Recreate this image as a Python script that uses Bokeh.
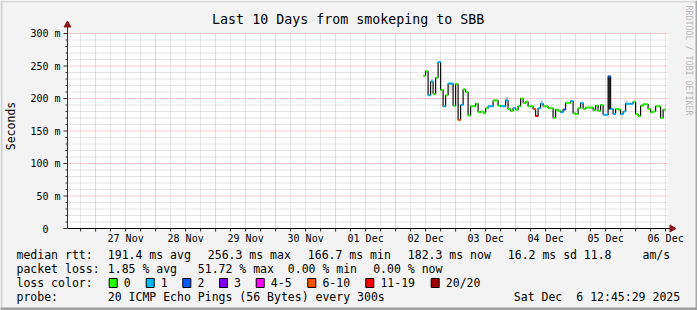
import math
import pandas as pd
from bokeh.plotting import figure
from bokeh.models import Range1d
from bokeh.core.properties import value
from bokeh.embed import file_html
from bokeh.resources import INLINE

# ---------------- data ----------------
title_text = "Last 10 Days from smokeping to SBB"
graph_end = "2025-12-06 12:45:29"
first_slot = "2025-12-02 11:00"          # hourly consolidated medians
median_ms = [235, 242, 205, 226, 207, 232, 256, 213, 188, 205,
             223, 223, 189, 222, 167, 190, 214, 210, 174, 188,
             188, 192, 179, 180, 178, 185, 188, 188, 197, 197,
             189, 188, 188, 197, 184, 181, 185, 183, 188, 200,
             193, 195, 188, 188, 184, 173, 185, 192, 188, 188,
             185, 185, 170, 183, 181, 179, 183, 193, 193, 196,
             177, 176, 185, 193, 184, 186, 186, 186, 182, 189,
             181, 190, 175, 175, 234, 184, 176, 184, 183, 176,
             180, 192, 192, 192, 195, 176, 173, 189, 191, 191,
             184, 179, 180, 188, 188, 170, 183]
lost_pings = [0, 0, 1, 1, 0, 0, 1, 0, 1, 0,
              1, 1, 0, 0, 6, 1, 0, 0, 0, 0,
              0, 0, 0, 0, 0, 0, 1, 1, 0, 0,
              0, 1, 1, 1, 0, 0, 1, 0, 0, 0,
              0, 0, 0, 0, 6, 11, 1, 1, 0, 0,
              0, 0, 0, 0, 0, 1, 2, 0, 0, 1,
              0, 0, 0, 1, 0, 0, 0, 0, 0, 0,
              0, 0, 1, 1, 2, 1, 1, 0, 0, 1,
              1, 1, 1, 1, 0, 0, 0, 0, 0, 0,
              0, 0, 0, 0, 0, 0, 0]
# smoke (ping spread) per slot: slot index, low, high, shade
smoke_slot = [3, 10, 11, 33, 47, 57, 74, 79, 81]
smoke_lo = [226, 208, 208, 197, 192, 193, 183, 168, 192]
smoke_hi = [230, 222, 222, 202, 197, 197, 234, 176, 196]
smoke_col = ["#c8c8c8", "#e0e0e0", "#e0e0e0", "#b4b4b4", "#d0d0d0",
             "#d8d8d8", "#2a2a2a", "#d8d8d8", "#d0d0d0"]

loss_labels = ["0", "1", "2", "3", "4-5", "6-10", "11-19", "20/20"]
loss_lower = [0, 1, 2, 3, 4, 6, 11, 20]
loss_colors = ["#26ff00", "#00b8ff", "#0059ff", "#7e00ff", "#ff00ff",
               "#ff5500", "#ff0000", "#a10000"]

y_ticks = [0, 50, 100, 150, 200, 250, 300]
y_tick_labels = ["0", "50 m", "100 m", "150 m", "200 m", "250 m", "300 m"]

stats_rtt = ["191.4 ms avg", "256.3 ms max", "166.7 ms min", "182.3 ms now",
             "16.2 ms sd", "11.8", "am/s"]
stats_loss = ["1.85 % avg", "51.72 % max", "0.00 % min", "0.00 % now"]
probe_text = "20 ICMP Echo Pings (56 Bytes) every 300s"
stamp_parts = ["Sat Dec", "6 12:45:29 2025"]

# ---------------- geometry (graph area 600x195 px at 67..667, 33..228) ----------------
W, HT = 697, 310
GX0, GY0 = 67, 228          # px of (t_start, 0)
PXH = 2.5                   # px per hour
PXV = 0.65                  # px per ms

HOUR = pd.Timedelta(hours=1)
t_end = pd.Timestamp(graph_end)
t_start = t_end - pd.Timedelta(days=10)

def X(px):
    return t_start + pd.Timedelta(hours=(px - GX0) / PXH)

def Y(py):
    return (GY0 - py) / PXV

def dx(px):
    return pd.Timedelta(hours=px / PXH)

p = figure(width=W, height=HT, output_backend="svg", toolbar_location=None,
           x_axis_type="datetime", x_axis_location=None, y_axis_location=None,
           x_range=Range1d(X(0), X(W)), y_range=Range1d(Y(HT), Y(0)),
           min_border=0, min_border_left=0, min_border_right=0,
           min_border_top=0, min_border_bottom=0)
p.background_fill_color = "#f3f3f3"
p.border_fill_color = "#f3f3f3"
p.outline_line_color = None
p.xgrid.visible = False
p.ygrid.visible = False

n = len(median_ms)
slot_start = [pd.Timestamp(first_slot) + i * HOUR for i in range(n)]
slot_end = [s + HOUR for s in slot_start]

def band(loss):
    b = 0
    for i, lo in enumerate(loss_lower):
        if loss >= lo:
            b = i
    return b

# 3D frame edges
for l, r, t, b, c in [(0, W, 0, 2, "#dadada"), (0, 2, 0, HT, "#d0d0d0"),
                      (W - 2, W, 0, HT, "#a8a8a8"), (0, W, HT - 3, HT, "#a0a0a0")]:
    p.quad(left=[X(l)], right=[X(r)], top=[Y(t)], bottom=[Y(b)], fill_color=c,
           line_color=None)

# canvas (graph area)
p.quad(left=[t_start], right=[t_end], bottom=[0], top=[300], fill_color="white",
       line_color=None)

# grid
vt = pd.date_range("2025-11-26 18:00", "2025-12-06 12:00", freq="6h")
minor_v = [t for t in vt if t.hour != 0]
major_v = [t for t in vt if t.hour == 0]
minor_h = [v for v in range(10, 301, 10) if v % 50]
major_h = [v for v in range(50, 301, 50)]
grid_minor = "#c8c8c8"
grid_major = "#f49a9a"
p.segment(x0=minor_v, x1=minor_v, y0=[0] * len(minor_v), y1=[300] * len(minor_v),
          line_color=grid_minor, line_dash="1 1", line_width=1)
p.segment(x0=[t_start] * len(minor_h), x1=[t_end] * len(minor_h), y0=minor_h, y1=minor_h,
          line_color=grid_minor, line_dash="1 1", line_width=1)
p.segment(x0=major_v, x1=major_v, y0=[0] * len(major_v), y1=[300] * len(major_v),
          line_color=grid_major, line_dash="1 1", line_width=1)
p.segment(x0=[t_start] * len(major_h), x1=[t_end] * len(major_h), y0=major_h, y1=major_h,
          line_color=grid_major, line_dash="1 1", line_width=1)

# smoke
p.quad(left=[slot_start[i] for i in smoke_slot], right=[slot_end[i] for i in smoke_slot],
       bottom=smoke_lo, top=smoke_hi, fill_color=smoke_col, line_color=None)

# median line (step)
xs = slot_start + [slot_end[-1]]
ys = median_ms + [median_ms[-1]]
p.step(xs, ys, mode="after", line_color="#101010", line_width=1.2)

# loss-coloured median marks
half = 1.0 / PXV
cols = [loss_colors[band(l)] for l in lost_pings]
p.quad(left=slot_start, right=slot_end, bottom=[v - half for v in median_ms],
       top=[v + half for v in median_ms], fill_color=cols, line_color=None)

# axes lines, ticks and arrows
axis_col = "#303030"
p.segment(x0=[t_start], x1=[t_start], y0=[0], y1=[Y(26)], line_color=axis_col)
p.segment(x0=[t_start], x1=[t_end + dx(4)], y0=[0], y1=[0], line_color="black")
p.segment(x0=[t_start - dx(4)] * len(y_ticks), x1=[t_start] * len(y_ticks),
          y0=y_ticks, y1=y_ticks, line_color=axis_col)
p.segment(x0=[t_start - dx(2)] * len(minor_h), x1=[t_start] * len(minor_h),
          y0=minor_h, y1=minor_h, line_color=axis_col)
p.segment(x0=list(vt), x1=list(vt), y0=[0] * len(vt), y1=[-3 / PXV] * len(vt),
          line_color=axis_col)
p.scatter(x=[t_start], y=[Y(24.5)], marker="triangle", size=7,
          fill_color="#8b1a1a", line_color="#8b1a1a")
p.scatter(x=[t_end + dx(4.5)], y=[0], marker="triangle", size=7,
          angle=-math.pi / 2, fill_color="#8b1a1a", line_color="#8b1a1a")

MONO = value("DejaVu Sans Mono")

def text(xs_, ys_, ss, size="11.5px", align="left", angle=0.0, color="black"):
    p.text(x=xs_, y=ys_, text=ss, text_font=MONO, text_font_size=value(size),
           text_align=align, text_baseline="middle", angle=angle, text_color=color)

# tick labels
text([X(60)] * len(y_ticks[1:]), y_ticks[1:], y_tick_labels[1:], size="10px", align="right")
text([X(48)], [y_ticks[0]], [y_tick_labels[0]], size="10px", align="right")
noon = list(pd.date_range("2025-11-27 12:00", "2025-12-06 12:00", freq="1D"))
text(noon, [Y(237.5)] * len(noon), [t.strftime("%d %b") for t in noon],
     size="10px", align="center")

# titles
text([X(347.7)], [Y(19)], [title_text], size="13.3px", align="center")
text([X(10.5)], [Y(125.5)], ["Seconds"], angle=math.pi / 2, align="center")
text([X(688)], [Y(60)], ["RRDTOOL / TOBI OETIKER"], size="8.3px", align="center",
     angle=-math.pi / 2, color="#b8b8b8")

# legend
rows = [254, 268, 282, 296]
text([X(16)], [Y(rows[0])], ["median rtt:"])
text([X(v) for v in [107.3, 207.3, 307.3, 407.3, 507.3, 583.3, 642]],
     [Y(rows[0])] * len(stats_rtt), stats_rtt)
text([X(16)], [Y(rows[1])], ["packet loss:"])
text([X(v) for v in [107.3, 197.3, 287.3, 372.7]], [Y(rows[1])] * len(stats_loss), stats_loss)
text([X(16)], [Y(rows[2])], ["loss color:"])
box_x = [108.7, 145.7, 182.3, 219.0, 255.7, 307.3, 365.3, 430.7]
p.quad(left=[X(b) for b in box_x], right=[X(b + 8) for b in box_x],
       top=[Y(278)] * len(box_x), bottom=[Y(287)] * len(box_x),
       fill_color=loss_colors, line_color="black", line_width=1)
text([X(b + 14.6) for b in box_x], [Y(rows[2])] * len(box_x), loss_labels)
text([X(16)], [Y(rows[3])], ["probe:"])
text([X(107.3)], [Y(rows[3])], [probe_text])
text([X(513.3), X(575.8)], [Y(rows[3])] * 2, stamp_parts)

open("out.html", "w").write(file_html(p, INLINE))
